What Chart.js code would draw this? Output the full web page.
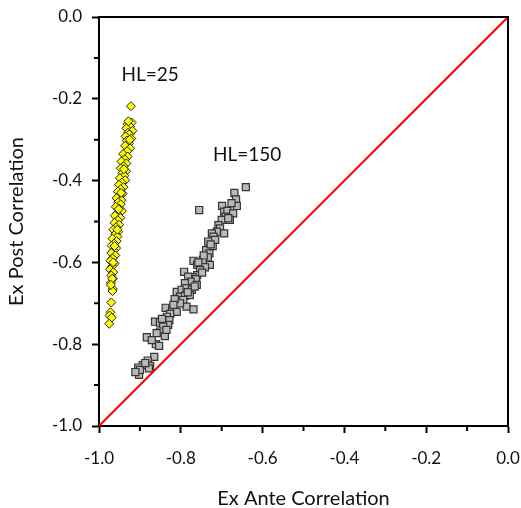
<!DOCTYPE html>
<html>
<head>
<meta charset="utf-8">
<script src="https://cdn.jsdelivr.net/npm/chart.js@4"></script>
<style>
  html, body { margin: 0; padding: 0; background: #fff; }
  #wrap { width: 521px; height: 508px; }
</style>
</head>
<body>
<div id="wrap"><canvas id="chart" width="521" height="508"></canvas></div>
<script>
// HL=25 (yellow diamonds): ex ante x, ex post y
const hl25X = [-0.922, -0.920, -0.930, -0.924, -0.933, -0.918, -0.929, -0.926, -0.935, -0.921, -0.932, -0.927, -0.936, -0.924, -0.931,
  -0.941, -0.930, -0.937, -0.945, -0.933, -0.940, -0.947, -0.934, -0.943, -0.938, -0.949, -0.936, -0.944, -0.951, -0.940,
  -0.947, -0.954, -0.942, -0.950, -0.957, -0.945, -0.953, -0.947, -0.959, -0.950, -0.944, -0.956, -0.961, -0.948, -0.954,
  -0.962, -0.951, -0.958, -0.965, -0.953, -0.960, -0.955, -0.967, -0.957, -0.963, -0.969, -0.958, -0.964, -0.970, -0.960,
  -0.967, -0.972, -0.962, -0.968, -0.973, -0.965, -0.970, -0.966, -0.971, -0.966, -0.967, -0.970, -0.972, -0.974, -0.969, -0.975,
  -0.928, -0.925, -0.939, -0.946, -0.952, -0.955, -0.962, -0.965, -0.968, -0.971];
const hl25Y = [-0.218, -0.258, -0.262, -0.268, -0.272, -0.278, -0.283, -0.287, -0.292, -0.297, -0.302, -0.309, -0.315, -0.321, -0.328,
  -0.335, -0.341, -0.348, -0.353, -0.358, -0.365, -0.370, -0.377, -0.382, -0.388, -0.394, -0.399, -0.405, -0.410, -0.416,
  -0.421, -0.427, -0.432, -0.437, -0.443, -0.448, -0.453, -0.458, -0.464, -0.469, -0.474, -0.480, -0.486, -0.491, -0.497,
  -0.503, -0.508, -0.514, -0.520, -0.525, -0.531, -0.537, -0.542, -0.548, -0.554, -0.559, -0.565, -0.571, -0.577, -0.583,
  -0.590, -0.596, -0.603, -0.610, -0.617, -0.624, -0.632, -0.640, -0.650, -0.665, -0.670, -0.698, -0.722, -0.730, -0.735, -0.750,
  -0.255, -0.300, -0.372, -0.430, -0.470, -0.520, -0.560, -0.600, -0.640, -0.655];

// HL=150 (grey squares)
const hl150X = [-0.641, -0.669, -0.665, -0.663, -0.755, -0.699, -0.694, -0.686, -0.672, -0.690, -0.680, -0.700, -0.708, -0.704,
  -0.712, -0.724, -0.694, -0.720, -0.733, -0.722, -0.738, -0.730, -0.734, -0.769, -0.746, -0.729, -0.760, -0.741, -0.753,
  -0.792, -0.760, -0.771, -0.782, -0.763, -0.776, -0.790, -0.761, -0.810, -0.798, -0.786, -0.773, -0.802, -0.790, -0.778,
  -0.794, -0.786, -0.769, -0.802, -0.837, -0.821, -0.810, -0.826, -0.834, -0.863, -0.851, -0.828, -0.831, -0.843, -0.851,
  -0.839, -0.859, -0.883, -0.861, -0.853, -0.865, -0.881, -0.893, -0.875, -0.904, -0.902, -0.900, -0.878,
  -0.676, -0.684, -0.716, -0.727, -0.744, -0.757, -0.748, -0.766, -0.783, -0.815, -0.818, -0.846, -0.835, -0.871, -0.887, -0.911];
const hl150Y = [-0.416, -0.430, -0.446, -0.462, -0.472, -0.462, -0.476, -0.474, -0.480, -0.488, -0.496, -0.496, -0.509, -0.517,
  -0.525, -0.529, -0.529, -0.537, -0.549, -0.560, -0.570, -0.578, -0.588, -0.596, -0.594, -0.606, -0.606, -0.612, -0.619,
  -0.623, -0.631, -0.636, -0.635, -0.641, -0.647, -0.651, -0.655, -0.672, -0.667, -0.663, -0.667, -0.684, -0.682, -0.680,
  -0.692, -0.708, -0.715, -0.700, -0.711, -0.715, -0.721, -0.726, -0.733, -0.745, -0.747, -0.741, -0.753, -0.757, -0.769,
  -0.780, -0.773, -0.783, -0.800, -0.804, -0.831, -0.840, -0.851, -0.853, -0.857, -0.875, -0.863, -0.859,
  -0.455, -0.492, -0.545, -0.556, -0.583, -0.600, -0.625, -0.659, -0.673, -0.690, -0.704, -0.738, -0.765, -0.790, -0.846, -0.868];

const diagX = [-1.0, 0.0];
const diagY = [-1.0, 0.0];

const FONT = 'Lato, "Open Sans", sans-serif';
const toPts = (xs, ys) => xs.map((x, i) => ({ x: x, y: ys[i] }));

// frame on top/right, minor ticks, and the HL labels
const extras = {
  id: 'extras',
  afterDraw(chart) {
    const ctx = chart.ctx;
    const a = chart.chartArea;
    const xs = chart.scales.x, ys = chart.scales.y;
    ctx.save();
    ctx.strokeStyle = '#000';
    ctx.lineWidth = 2;
    ctx.beginPath();
    ctx.moveTo(a.left, a.top); ctx.lineTo(a.right, a.top); ctx.lineTo(a.right, a.bottom);
    ctx.stroke();
    // minor ticks
    ctx.beginPath();
    for (let k = -9; k <= -1; k += 2) {
      const px = xs.getPixelForValue(k / 10);
      ctx.moveTo(px, a.bottom); ctx.lineTo(px, a.bottom + 5);
      const py = ys.getPixelForValue(k / 10);
      ctx.moveTo(a.left, py); ctx.lineTo(a.left - 5, py);
    }
    ctx.stroke();
    ctx.fillStyle = '#111';
    ctx.font = '19px ' + FONT;
    ctx.textAlign = 'center';
    ctx.textBaseline = 'middle';
    ctx.fillText('HL=25', xs.getPixelForValue(-0.875), ys.getPixelForValue(-0.142));
    ctx.fillText('HL=150', xs.getPixelForValue(-0.638), ys.getPixelForValue(-0.337));
    ctx.restore();
  }
};

new Chart(document.getElementById('chart').getContext('2d'), {
  type: 'scatter',
  data: {
    datasets: [
      {
        label: 'diag',
        type: 'line',
        data: toPts(diagX, diagY),
        borderColor: '#ff0000',
        borderWidth: 2,
        pointRadius: 0,
        fill: false,
        order: 3
      },
      {
        label: 'HL=150',
        data: toPts(hl150X, hl150Y),
        pointStyle: 'rect',
        pointRadius: 5,
        backgroundColor: '#b8b8b8',
        borderColor: '#333',
        borderWidth: 1.2,
        order: 2
      },
      {
        label: 'HL=25',
        data: toPts(hl25X, hl25Y),
        pointStyle: 'rectRot',
        pointRadius: 4.5,
        backgroundColor: '#ffff00',
        borderColor: '#222',
        borderWidth: 1,
        order: 1
      }
    ]
  },
  options: {
    responsive: false,
    animation: false,
    layout: { padding: { top: 17, right: 13, left: 0, bottom: 0 } },
    plugins: { legend: { display: false }, tooltip: { enabled: false } },
    scales: {
      x: {
        type: 'linear',
        min: -1, max: 0,
        border: { color: '#000', width: 2 },
        grid: { drawOnChartArea: false, tickLength: 7, tickColor: '#000', tickWidth: 2 },
        ticks: {
          stepSize: 0.2, padding: 15, color: '#111',
          font: { family: FONT, size: 17 },
          callback: v => v.toFixed(1)
        },
        title: { display: true, text: 'Ex Ante Correlation', color: '#111', font: { family: FONT, size: 20 }, padding: { top: 12, bottom: -3 } },
        afterFit: s => { s.height = 82; s.paddingLeft = 0; s.paddingRight = 0; }
      },
      y: {
        type: 'linear',
        min: -1, max: 0,
        border: { color: '#000', width: 2 },
        grid: { drawOnChartArea: false, tickLength: 7, tickColor: '#000', tickWidth: 2 },
        ticks: {
          stepSize: 0.2, padding: 10, color: '#111',
          font: { family: FONT, size: 17 },
          callback: v => v.toFixed(1)
        },
        title: { display: true, text: 'Ex Post Correlation', color: '#111', font: { family: FONT, size: 20 }, padding: { top: 5, bottom: 0 } },
        afterFit: s => { s.width = 99; s.paddingTop = 0; s.paddingBottom = 0; }
      }
    }
  },
  plugins: [extras]
});
</script>
</body>
</html>
